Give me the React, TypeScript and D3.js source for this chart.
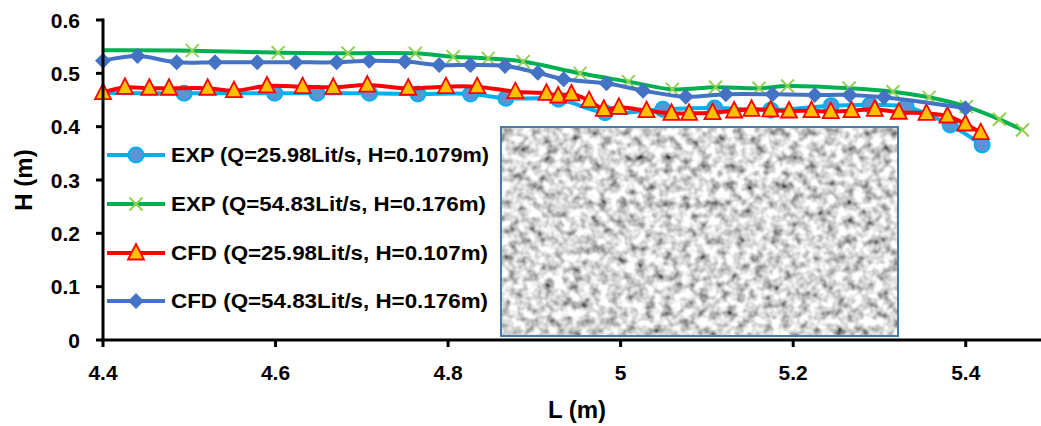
import React from "react";
import * as d3 from "d3";

// ---- data ----
const expQ26_L = [4.38, 4.494, 4.599, 4.648, 4.709, 4.765, 4.826, 4.867, 4.928, 4.982, 5.049, 5.109, 5.174, 5.244, 5.289, 5.331, 5.382, 5.419];
const expQ26_H = [0.463, 0.4626, 0.4626, 0.4626, 0.4626, 0.4613, 0.4613, 0.4532, 0.4513, 0.4262, 0.4326, 0.435, 0.431, 0.4394, 0.4406, 0.4375, 0.4031, 0.3656];

const expQ55_L = [4.38, 4.5035, 4.603, 4.684, 4.762, 4.806, 4.8465, 4.887, 4.953, 5.009, 5.06, 5.11, 5.1605, 5.1934, 5.2648, 5.3157, 5.3575, 5.4008, 5.439, 5.4657];
const expQ55_H = [0.543, 0.5425, 0.5388, 0.5376, 0.5375, 0.531, 0.528, 0.522, 0.5, 0.4844, 0.47, 0.474, 0.472, 0.4763, 0.472, 0.4656, 0.455, 0.4375, 0.4138, 0.3938];

const cfdQ26_L = [4.4, 4.4255, 4.4537, 4.4765, 4.5213, 4.5518, 4.59, 4.6314, 4.6669, 4.7063, 4.7538, 4.7975, 4.8337, 4.878, 4.914, 4.9276, 4.943, 4.9635, 4.9805, 4.998, 5.03, 5.059, 5.0794, 5.1065, 5.1315, 5.1517, 5.1737, 5.1952, 5.2212, 5.2436, 5.2676, 5.2946, 5.3224, 5.3545, 5.3788, 5.3996, 5.4174];
const cfdQ26_H = [0.4637, 0.4738, 0.472, 0.472, 0.472, 0.4675, 0.4763, 0.475, 0.4738, 0.478, 0.472, 0.475, 0.475, 0.4656, 0.4626, 0.4575, 0.4613, 0.4487, 0.4326, 0.4363, 0.43, 0.425, 0.425, 0.4263, 0.4294, 0.4326, 0.4313, 0.4294, 0.43, 0.4281, 0.43, 0.4326, 0.427, 0.425, 0.42, 0.405, 0.3888];

const cfdQ55_L = [4.4, 4.44, 4.4854, 4.5298, 4.5788, 4.6233, 4.6708, 4.7086, 4.75, 4.7897, 4.826, 4.866, 4.904, 4.934, 4.9836, 5.026, 5.0755, 5.1219, 5.176, 5.225, 5.2656, 5.3053, 5.3996];
const cfdQ55_H = [0.5237, 0.5325, 0.5207, 0.5207, 0.5207, 0.5207, 0.5207, 0.5237, 0.522, 0.5157, 0.5157, 0.5138, 0.5012, 0.4888, 0.4813, 0.4675, 0.456, 0.4607, 0.4607, 0.4594, 0.4594, 0.455, 0.4345];

const seriesNames = [
  "EXP (Q=25.98Lit/s, H=0.1079m)",
  "EXP (Q=54.83Lit/s, H=0.176m)",
  "CFD (Q=25.98Lit/s, H=0.107m)",
  "CFD (Q=54.83Lit/s, H=0.176m)",
];
const xTicks = [4.4, 4.6, 4.8, 5, 5.2, 5.4];
const yTicks = [0, 0.1, 0.2, 0.3, 0.4, 0.5, 0.6];

type Kind = "circle" | "x" | "triangle" | "diamond";
const series = [
  { name: seriesNames[0], L: expQ26_L, H: expQ26_H, kind: "circle" as Kind, line: "#00B0F0", clip: true },
  { name: seriesNames[1], L: expQ55_L, H: expQ55_H, kind: "x" as Kind, line: "#00B050", clip: true },
  { name: seriesNames[2], L: cfdQ26_L, H: cfdQ26_H, kind: "triangle" as Kind, line: "#FF0000", clip: false },
  { name: seriesNames[3], L: cfdQ55_L, H: cfdQ55_H, kind: "diamond" as Kind, line: "#4472C4", clip: false },
];

const W = 1041, H = 426;
const FONT = "'Liberation Sans', Arial, sans-serif";

function Marker({ kind, x, y }: { kind: Kind; x: number; y: number }) {
  if (kind === "circle")
    return <circle cx={x} cy={y} r={7.5} fill="#5B93D5" stroke="#00B0F0" strokeWidth={2} />;
  if (kind === "x")
    return (
      <path d={`M${x - 6.5},${y - 6.5}L${x + 6.5},${y + 6.5}M${x - 6.5},${y + 6.5}L${x + 6.5},${y - 6.5}`} stroke="#92D050" strokeWidth={2} fill="none" />
    );
  if (kind === "triangle")
    return (
      <path d={`M${x},${y - 9}L${x + 8},${y + 6.5}L${x - 8},${y + 6.5}Z`} fill="#FFC000" stroke="#FF0000" strokeWidth={1.8} strokeLinejoin="miter" />
    );
  return <path d={`M${x},${y - 8}L${x + 8},${y}L${x},${y + 8}L${x - 8},${y}Z`} fill="#4472C4" />;
}

export default function App() {
  const x = d3.scaleLinear().domain([4.4, 5.5]).range([103, 1052]);
  const y = d3.scaleLinear().domain([0, 0.6]).range([340, 20]);
  const line = d3
    .line<[number, number]>()
    .x((d) => x(d[0]))
    .y((d) => y(d[1]))
    .curve(d3.curveCatmullRom.alpha(0.5));

  const legendY = [155, 204, 253, 301];
  const legendW = [318, 315, 317, 317];

  return (
    <svg width={W} height={H} style={{ position: "absolute", left: 0, top: 0, background: "#fff" }} fontFamily={FONT}>
      <defs>
        <clipPath id="plotclip">
          <rect x={x(4.4)} y={0} width={W} height={y(0)} />
        </clipPath>
        <filter id="gravel" x="0" y="0" width="100%" height="100%">
          <feTurbulence type="fractalNoise" baseFrequency="0.11" numOctaves={2} seed={7} />
          <feColorMatrix type="matrix" values="1.7 0 0 0 -0.16  1.7 0 0 0 -0.16  1.7 0 0 0 -0.16  0 0 0 0 1" />
          <feGaussianBlur stdDeviation="0.6" />
        </filter>
      </defs>
      <rect width={W} height={H} fill="#fff" />

      {/* inset texture */}
      <rect x={501} y={127} width={397} height={209} fill="#b5b5b5" filter="url(#gravel)" />
      <rect x={501} y={127} width={397} height={209} fill="none" stroke="#4A7AAB" strokeWidth={2} />

      {/* series */}
      {series.map((s, i) => {
        const pts = s.L.map((l, k) => [l, s.H[k]] as [number, number]);
        return (
          <g key={i} clipPath={s.clip ? "url(#plotclip)" : undefined}>
            <path d={line(pts) || ""} fill="none" stroke={s.line} strokeWidth={4} strokeLinejoin="round" />
            {pts.map((p, k) => (
              <Marker key={k} kind={s.kind} x={x(p[0])} y={y(p[1])} />
            ))}
          </g>
        );
      })}

      {/* axes */}
      <line x1={x(4.4)} x2={W} y1={y(0)} y2={y(0)} stroke="#000" strokeWidth={3} />
      <line x1={x(4.4)} x2={x(4.4)} y1={y(0.6) - 1.5} y2={y(0) + 1.5} stroke="#000" strokeWidth={3} />
      {yTicks.map((t) => (
        <g key={t}>
          <line x1={x(4.4) - 7} x2={x(4.4)} y1={y(t)} y2={y(t)} stroke="#000" strokeWidth={3} />
          <text x={80} y={y(t) + 7.5} textAnchor="end" fontSize={21} fontWeight="bold" fill="#000">
            {d3.format("")(t)}
          </text>
        </g>
      ))}
      {xTicks.map((t) => (
        <g key={t}>
          <line x1={x(t)} x2={x(t)} y1={y(0)} y2={y(0) + 7} stroke="#000" strokeWidth={3} />
          <text x={x(t)} y={380} textAnchor="middle" fontSize={21} fontWeight="bold" fill="#000">
            {d3.format("")(t)}
          </text>
        </g>
      ))}
      <text x={577} y={418} textAnchor="middle" fontSize={24} fontWeight="bold">L (m)</text>
      <text transform={`translate(32,180) rotate(-90)`} textAnchor="middle" fontSize={24} fontWeight="bold">H (m)</text>

      {/* legend */}
      {series.map((s, i) => (
        <g key={"lg" + i}>
          <line x1={107} x2={165} y1={legendY[i]} y2={legendY[i]} stroke={s.line} strokeWidth={4} />
          <Marker kind={s.kind} x={136} y={legendY[i]} />
          <text x={171} y={legendY[i] + 7} fontSize={19.5} fontWeight="bold" fill="#000" textLength={legendW[i]} lengthAdjust="spacingAndGlyphs">
            {s.name}
          </text>
        </g>
      ))}
    </svg>
  );
}
